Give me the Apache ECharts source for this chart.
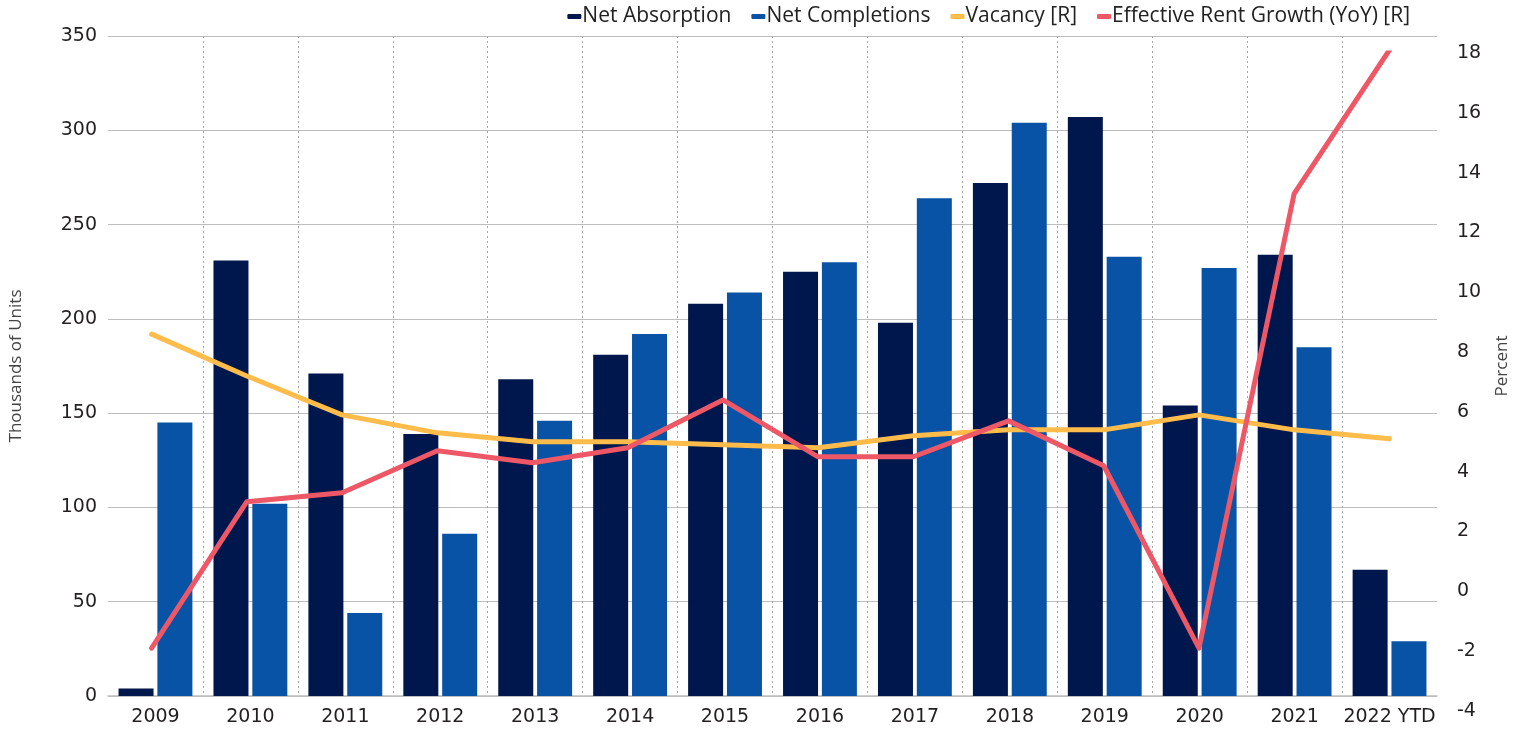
<!DOCTYPE html>
<html>
<head>
<meta charset="utf-8">
<title>Apartment market</title>
<script src="https://cdn.jsdelivr.net/npm/echarts@6/dist/echarts.min.js"></script>
<style>
  html, body { margin: 0; padding: 0; background: #fff; }
  #main { width: 1527px; height: 736px; }
</style>
</head>
<body>
<div id="main"></div>
<script>
// 数据
const years = ['2009', '2010', '2011', '2012', '2013', '2014', '2015', '2016', '2017', '2018', '2019', '2020', '2021', '2022 YTD']
const netAbsorption = [4, 231, 171, 139, 168, 181, 208, 225, 198, 272, 307, 154, 234, 67]
const netCompletions = [145, 102, 44, 86, 146, 192, 214, 230, 264, 304, 233, 227, 185, 29]
const vacancy = [8.6, 7.2, 5.9, 5.3, 5.0, 5.0, 4.9, 4.8, 5.2, 5.4, 5.4, 5.9, 5.4, 5.1]
const rentGrowth = [-1.9, 3.0, 3.3, 4.7, 4.3, 4.8, 6.4, 4.5, 4.5, 5.7, 4.2, -1.9, 13.3, 18.1]
const leftTicks = { min: 0, max: 350, interval: 50 }
const rightTicks = { min: -4, max: 18, interval: 2 }

const labelFont = 'DejaVu Sans'
const textColor = '#231f20'

let chart = echarts.init(document.getElementById('main'), null, { renderer: 'canvas' })

function getOption() {
  return {
    animation: false,
    backgroundColor: '#fff',
    legend: {
      top: 1,
      right: 112,
      itemGap: 20,
      itemWidth: 14,
      itemHeight: 5,
      icon: 'roundRect',
      textStyle: { fontFamily: 'Open Sans', fontSize: 21, color: '#222', padding: [0, 0, 0, -4] },
      data: ['Net Absorption', 'Net Completions', 'Vacancy [R]', 'Effective Rent Growth (YoY) [R]']
    },
    // 两个 grid：右轴刻度比左轴整体下移
    grid: [
      { left: 104, right: 90, top: 36, bottom: 40 },
      { left: 104, right: 90, top: 53, bottom: 25 }
    ],
    xAxis: [
      {
        type: 'category',
        gridIndex: 0,
        data: years,
        boundaryGap: true,
        axisLine: { lineStyle: { color: '#bdbdbd', width: 1.5 } },
        axisTick: { show: false },
        axisLabel: { interval: 0, fontFamily: labelFont, fontSize: 19, color: textColor, margin: 12 },
        splitLine: {
          show: true,
          interval: 0,
          showMinLine: false,
          showMaxLine: false,
          lineStyle: { color: '#a8a8a8', type: [2, 3], width: 1 }
        }
      },
      {
        type: 'category',
        gridIndex: 1,
        data: years,
        boundaryGap: true,
        show: false
      }
    ],
    yAxis: [
      {
        type: 'value',
        gridIndex: 0,
        min: leftTicks.min,
        max: leftTicks.max,
        interval: leftTicks.interval,
        name: 'Thousands of Units',
        nameLocation: 'middle',
        nameRotate: 90,
        nameGap: 83,
        nameTextStyle: { fontFamily: 'Open Sans', fontSize: 17, color: '#444' },
        axisLine: { show: false },
        axisTick: { show: false },
        axisLabel: { fontFamily: labelFont, fontSize: 19, color: textColor, margin: 11 },
        splitLine: { lineStyle: { color: '#bdbdbd', width: 1.2 } }
      },
      {
        type: 'value',
        gridIndex: 1,
        position: 'right',
        min: rightTicks.min,
        max: rightTicks.max,
        interval: rightTicks.interval,
        name: 'Percent',
        nameLocation: 'middle',
        nameRotate: 90,
        nameGap: 57,
        nameTextStyle: { fontFamily: 'Open Sans', fontSize: 17, color: '#444', padding: [0, 0, 0, 32] },
        axisLine: { show: false },
        axisTick: { show: false },
        axisLabel: { fontFamily: labelFont, fontSize: 19, color: textColor, margin: 20 },
        splitLine: { show: false }
      }
    ],
    series: [
      {
        name: 'Net Absorption',
        type: 'bar',
        xAxisIndex: 0,
        yAxisIndex: 0,
        data: netAbsorption,
        barWidth: 35,
        barGap: '11%',
        itemStyle: { color: '#00174D' }
      },
      {
        name: 'Net Completions',
        type: 'bar',
        xAxisIndex: 0,
        yAxisIndex: 0,
        data: netCompletions,
        barWidth: 35,
        barGap: '11%',
        itemStyle: { color: '#0953A6' }
      },
      {
        name: 'Vacancy [R]',
        type: 'line',
        xAxisIndex: 1,
        yAxisIndex: 1,
        data: vacancy,
        showSymbol: false,
        symbol: 'none',
        itemStyle: { color: '#FFBC4B' },
        lineStyle: { color: '#FFBC4B', width: 5, cap: 'round', join: 'round' }
      },
      {
        name: 'Effective Rent Growth (YoY) [R]',
        type: 'line',
        xAxisIndex: 1,
        yAxisIndex: 1,
        data: rentGrowth,
        showSymbol: false,
        symbol: 'none',
        itemStyle: { color: '#EE5766' },
        lineStyle: { color: '#EE5766', width: 5, cap: 'round', join: 'round' }
      }
    ]
  }
}

chart.setOption(getOption())
</script>
</body>
</html>
